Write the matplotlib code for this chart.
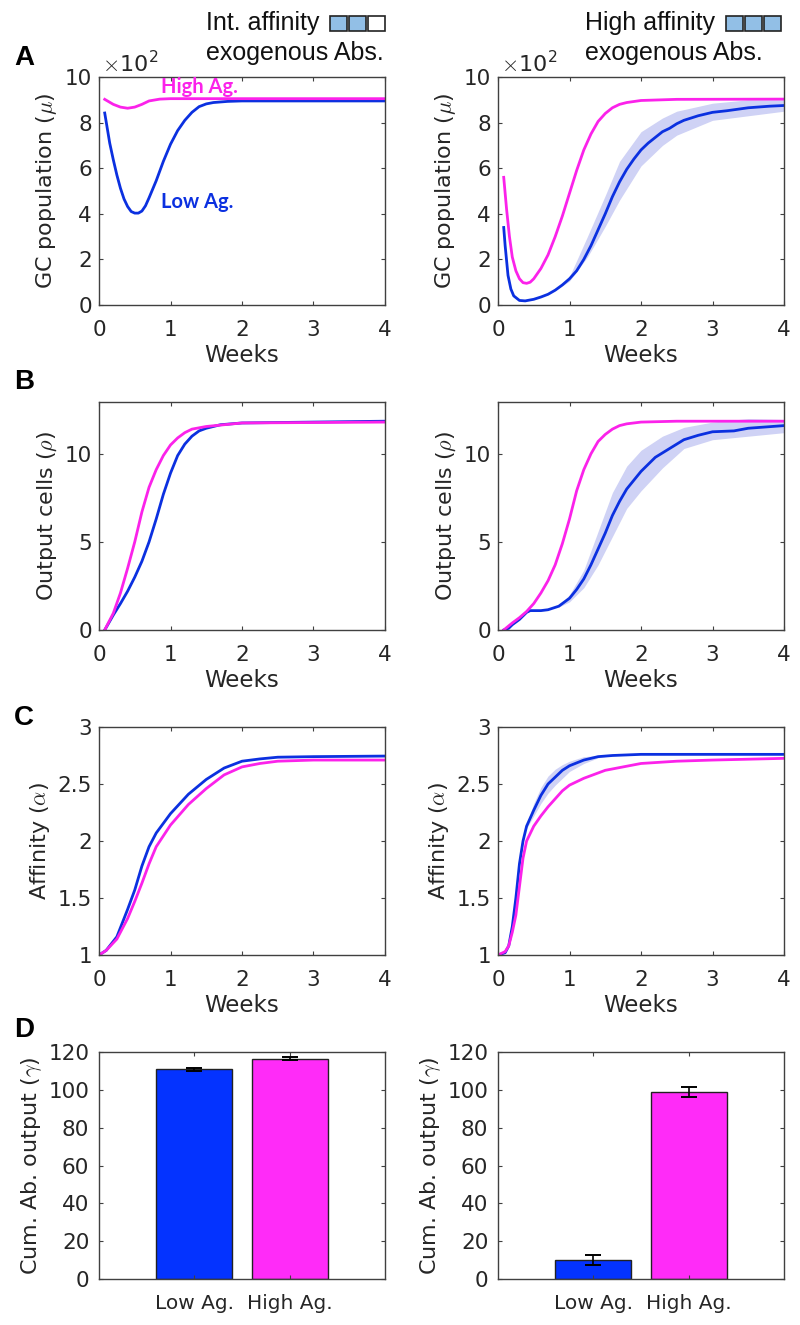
import matplotlib
matplotlib.use('Agg')
import matplotlib.pyplot as plt
from matplotlib.patches import Rectangle

plt.rcParams['font.family'] = 'DejaVu Sans'
plt.rcParams['mathtext.fontset'] = 'cm'
plt.rcParams['font.size'] = 15

W, H = 800, 1325
BLUE = '#0b30e0'
MAGENTA = '#fb22ea'
BAND = '#cfd2f5'
DARK = '#262626'
GRAY = '#404040'

# panel A, GC population (x 100)
a_l_high_t = [.08, .2, .3, .4, .5, .6, .7, .85, 1, 2, 4]
a_l_high = [9.02, 8.8, 8.68, 8.63, 8.68, 8.8, 8.95, 9.03, 9.05, 9.05, 9.05]
a_l_low_t = [.08, .15, .2, .25, .3, .35, .4, .45, .5, .55, .6, .65, .7, .8, .9, 1, 1.1, 1.2, 1.3, 1.4, 1.5, 1.6, 1.8, 2, 3, 4]
a_l_low = [8.42, 7.1, 6.37, 5.7, 5.12, 4.65, 4.32, 4.1, 4.03, 4.03, 4.12, 4.35, 4.7, 5.45, 6.3, 7.05, 7.65, 8.1, 8.45, 8.7, 8.82, 8.88, 8.93, 8.95, 8.95, 8.95]

a_r_high_t = [.08, .12, .16, .2, .25, .3, .35, .4, .45, .5, .6, .7, .8, .9, 1, 1.1, 1.2, 1.3, 1.4, 1.5, 1.6, 1.7, 1.8, 2, 2.5, 4]
a_r_high = [5.6, 4.2, 3.0, 2.1, 1.5, 1.15, .98, .95, 1.0, 1.15, 1.6, 2.2, 3.0, 3.9, 4.9, 5.9, 6.8, 7.5, 8.05, 8.4, 8.65, 8.8, 8.88, 8.97, 9.02, 9.03]
a_r_low_t = [.08, .1, .14, .18, .22, .3, .38, .5, .6, .7, .8, .9, 1, 1.1, 1.2, 1.3, 1.4, 1.5, 1.6, 1.7, 1.8, 1.9, 2, 2.1, 2.2, 2.3, 2.4, 2.5, 2.6, 2.8, 3, 3.2, 3.5, 3.8, 4]
a_r_low = [3.4, 2.6, 1.3, .7, .4, .2, .18, .25, .35, .47, .65, .88, 1.15, 1.5, 2.0, 2.6, 3.3, 4.0, 4.75, 5.4, 5.95, 6.4, 6.8, 7.1, 7.35, 7.6, 7.75, 7.95, 8.1, 8.3, 8.45, 8.52, 8.65, 8.72, 8.75]
a_r_band_t = [.8, 1, 1.25, 1.5, 1.7, 2, 2.3, 2.5, 3, 3.5, 4]
a_r_band_up = [.67, 1.25, 3.0, 4.8, 6.3, 7.6, 8.2, 8.5, 8.85, 9.0, 9.0]
a_r_band_lo = [.63, 1.05, 2.1, 3.45, 4.6, 6.1, 7.0, 7.45, 8.1, 8.3, 8.5]

# panel B, output cells
b_l_high_t = [.08, .2, .3, .4, .5, .6, .7, .8, .9, 1, 1.1, 1.2, 1.3, 1.5, 2, 4]
b_l_high = [0, .95, 2.1, 3.5, 5.0, 6.7, 8.1, 9.1, 9.9, 10.5, 10.9, 11.2, 11.4, 11.55, 11.75, 11.8]
b_l_low_t = [.08, .2, .3, .4, .5, .6, .7, .8, .9, 1, 1.1, 1.2, 1.3, 1.4, 1.5, 1.7, 2, 4]
b_l_low = [0, .85, 1.5, 2.2, 3.0, 3.9, 5.0, 6.3, 7.7, 8.9, 9.9, 10.55, 11, 11.3, 11.45, 11.65, 11.75, 11.85]

b_r_high_t = [.08, .2, .3, .4, .5, .6, .7, .8, .9, 1, 1.1, 1.2, 1.3, 1.4, 1.5, 1.6, 1.7, 1.8, 2, 2.5, 4]
b_r_high = [0, .4, .7, 1.05, 1.5, 2.1, 2.8, 3.7, 4.9, 6.3, 7.9, 9.1, 10, 10.7, 11.1, 11.4, 11.6, 11.7, 11.8, 11.85, 11.85]
b_r_low_t = [.08, .15, .2, .3, .4, .45, .6, .7, .85, 1, 1.1, 1.2, 1.3, 1.4, 1.5, 1.6, 1.7, 1.8, 1.9, 2, 2.2, 2.4, 2.6, 2.8, 3, 3.3, 3.5, 4]
b_r_low = [0, .1, .3, .6, 1.0, 1.1, 1.1, 1.15, 1.35, 1.8, 2.3, 2.9, 3.7, 4.6, 5.5, 6.5, 7.3, 8, 8.5, 9, 9.8, 10.3, 10.8, 11.05, 11.25, 11.3, 11.45, 11.6]
b_r_band_t = [.85, 1, 1.2, 1.4, 1.6, 1.8, 2, 2.3, 2.6, 3, 3.5, 4]
b_r_band_up = [1.4, 2.0, 3.4, 5.6, 7.8, 9.3, 10.2, 11.0, 11.5, 11.8, 12.0, 11.95]
b_r_band_lo = [1.3, 1.6, 2.4, 3.7, 5.3, 6.9, 7.9, 9.2, 10.3, 10.8, 11.0, 11.2]

# panel C, affinity
c_l_high_t = [0, .1, .25, .4, .5, .6, .7, .8, 1, 1.25, 1.5, 1.75, 2, 2.25, 2.5, 3, 4]
c_l_high = [1, 1.04, 1.14, 1.32, 1.47, 1.63, 1.8, 1.95, 2.14, 2.32, 2.46, 2.58, 2.65, 2.68, 2.7, 2.71, 2.71]
c_l_low_t = [0, .1, .25, .4, .5, .6, .7, .8, 1, 1.25, 1.5, 1.75, 2, 2.25, 2.5, 3, 4]
c_l_low = [1, 1.04, 1.16, 1.4, 1.57, 1.78, 1.95, 2.07, 2.24, 2.41, 2.54, 2.64, 2.7, 2.72, 2.735, 2.74, 2.745]

c_r_high_t = [0, .1, .15, .2, .25, .3, .35, .4, .5, .6, .7, .8, .9, 1, 1.2, 1.5, 2, 2.5, 3, 4]
c_r_high = [1, 1.03, 1.08, 1.2, 1.35, 1.6, 1.85, 2.0, 2.13, 2.22, 2.3, 2.37, 2.44, 2.49, 2.55, 2.62, 2.68, 2.7, 2.71, 2.725]
c_r_low_t = [0, .1, .15, .2, .25, .3, .35, .4, .5, .6, .7, .8, .9, 1, 1.2, 1.4, 1.6, 2, 4]
c_r_low = [1, 1.02, 1.08, 1.25, 1.5, 1.8, 2.0, 2.13, 2.27, 2.4, 2.5, 2.56, 2.62, 2.66, 2.71, 2.74, 2.75, 2.76, 2.76]
c_r_band_t = [.4, .5, .6, .7, .8, .9, 1, 1.2, 1.4, 1.6]
c_r_band_up = [2.15, 2.33, 2.47, 2.57, 2.63, 2.67, 2.7, 2.74, 2.75, 2.76]
c_r_band_lo = [2.11, 2.22, 2.33, 2.42, 2.49, 2.55, 2.61, 2.68, 2.73, 2.75]

# panel D, bars
bar_names = ['Low Ag.', 'High Ag.']
d_l_vals = [111, 116.5]
d_l_err = [.8, .8]
d_r_vals = [10, 99]
d_r_err = [2.7, 2.7]

row_y = [(77, 305), (402, 630), (727, 955), (1052, 1279)]
col_x = [(99, 385), (498, 784)]


def make_ax(col, row):
    x0, x1 = col_x[col]
    y0, y1 = row_y[row]
    ax = fig.add_axes([x0 / W, 1 - y1 / H, (x1 - x0) / W, (y1 - y0) / H])
    for s in ax.spines.values():
        s.set_color(GRAY)
        s.set_linewidth(1.0)
    ax.tick_params(direction='in', top=True, right=True, length=3, width=0.8,
                   color=GRAY, labelcolor=DARK, labelsize=15.5)
    ax.tick_params(axis='x', pad=11)
    ax.tick_params(axis='y', pad=5)
    return ax


def curve_ax(col, row, high, low, band, ylim, yticks, ylabel, labels):
    ax = make_ax(col, row)
    if band is not None:
        ax.fill_between(band[0], band[1], band[2], color=BAND, lw=0)
    ax.plot(low[0], low[1], color=BLUE, lw=2)
    ax.plot(high[0], high[1], color=MAGENTA, lw=2)
    ax.set_xlim(0, 4)
    ax.set_ylim(*ylim)
    ax.set_xticks([0, 1, 2, 3, 4])
    ax.set_yticks(yticks)
    ax.set_yticklabels(labels)
    ax.set_xlabel('Weeks', color=DARK, fontsize=16.5, labelpad=3)
    ax.set_ylabel(ylabel, color=DARK, fontsize=16, labelpad=4)
    return ax


def bar_ax(col, vals, err):
    ax = make_ax(col, 3)
    ax.bar([1, 2], vals, width=0.8, color=['#0433ff', '#ff2bf8'], edgecolor='#222222', linewidth=1.0)
    ax.errorbar([1, 2], vals, yerr=err, fmt='none', ecolor='black', elinewidth=1.2, capsize=5.5, capthick=1.4)
    ax.set_xlim(0, 3)
    ax.set_ylim(0, 120)
    ax.set_xticks([1, 2])
    ax.set_xticklabels(bar_names, fontsize=14.5)
    ax.set_yticks([0, 20, 40, 60, 80, 100, 120])
    ax.tick_params(axis='x', pad=11)
    ax.tick_params(axis='y', pad=7)
    ax.set_ylabel(r'Cum. Ab. output ($\gamma$)', color=DARK, fontsize=16, labelpad=3)
    return ax


fig = plt.figure(figsize=(W / 100, H / 100), dpi=100)

mu_ticks = [0, 2, 4, 6, 8, 10]
mu_labels = ['0', '2', '4', '6', '8', '10']
rho_ticks = [0, 5, 10]
rho_labels = ['0', '5', '10']
al_ticks = [1, 1.5, 2, 2.5, 3]
al_labels = ['1', '1.5', '2', '2.5', '3']
times_ten = r'$\times$10$^{\mathregular{2}}$'

ax = curve_ax(0, 0, (a_l_high_t, a_l_high), (a_l_low_t, a_l_low), None, (0, 10), mu_ticks, r'GC population ($\mu$)', mu_labels)
ax.text(.87, 9.55, 'High Ag.', color=MAGENTA, family='Lato', weight='bold', fontsize=14.5, va='center')
ax.text(.87, 4.5, 'Low Ag.', color=BLUE, family='Lato', weight='bold', fontsize=14.5, va='center')
ax.text(0.01, 1.005, times_ten, transform=ax.transAxes, color=DARK, fontsize=16, va='bottom')

ax = curve_ax(1, 0, (a_r_high_t, a_r_high), (a_r_low_t, a_r_low), (a_r_band_t, a_r_band_up, a_r_band_lo), (0, 10), mu_ticks, r'GC population ($\mu$)', mu_labels)
ax.text(0.01, 1.005, times_ten, transform=ax.transAxes, color=DARK, fontsize=16, va='bottom')

curve_ax(0, 1, (b_l_high_t, b_l_high), (b_l_low_t, b_l_low), None, (0, 12.94), rho_ticks, r'Output cells ($\rho$)', rho_labels)
curve_ax(1, 1, (b_r_high_t, b_r_high), (b_r_low_t, b_r_low), (b_r_band_t, b_r_band_up, b_r_band_lo), (0, 12.94), rho_ticks, r'Output cells ($\rho$)', rho_labels)
curve_ax(0, 2, (c_l_high_t, c_l_high), (c_l_low_t, c_l_low), None, (1, 3), al_ticks, r'Affinity ($\alpha$)', al_labels)
curve_ax(1, 2, (c_r_high_t, c_r_high), (c_r_low_t, c_r_low), (c_r_band_t, c_r_band_up, c_r_band_lo), (1, 3), al_ticks, r'Affinity ($\alpha$)', al_labels)

bar_ax(0, d_l_vals, d_l_err)
bar_ax(1, d_r_vals, d_r_err)

# panel letters
for letter, py in zip('ABCD', [58, 382, 718, 1030]):
    fig.text(14 / W, 1 - py / H, letter, family='Liberation Sans', weight='bold', fontsize=20, va='center', color='black')

# headers
head = dict(family='Liberation Sans', fontsize=18, color='#111111', va='baseline')
fig.text(206 / W, 1 - 30 / H, 'Int. affinity', **head)
fig.text(206 / W, 1 - 60 / H, 'exogenous Abs.', **head)
fig.text(585 / W, 1 - 30 / H, 'High affinity', **head)
fig.text(585 / W, 1 - 60 / H, 'exogenous Abs.', **head)

# little boxes next to the headers
for x0, fills in [(330, ['#92bfe6', '#92bfe6', 'white']), (726, ['#92bfe6', '#92bfe6', '#92bfe6'])]:
    for i, c in enumerate(fills):
        fig.add_artist(Rectangle(((x0 + i * 19) / W, 1 - 31 / H), 17 / W, 15 / H, transform=fig.transFigure,
                                 facecolor=c, edgecolor='#222222', linewidth=1.2))

fig.savefig('out.png', dpi=100)
